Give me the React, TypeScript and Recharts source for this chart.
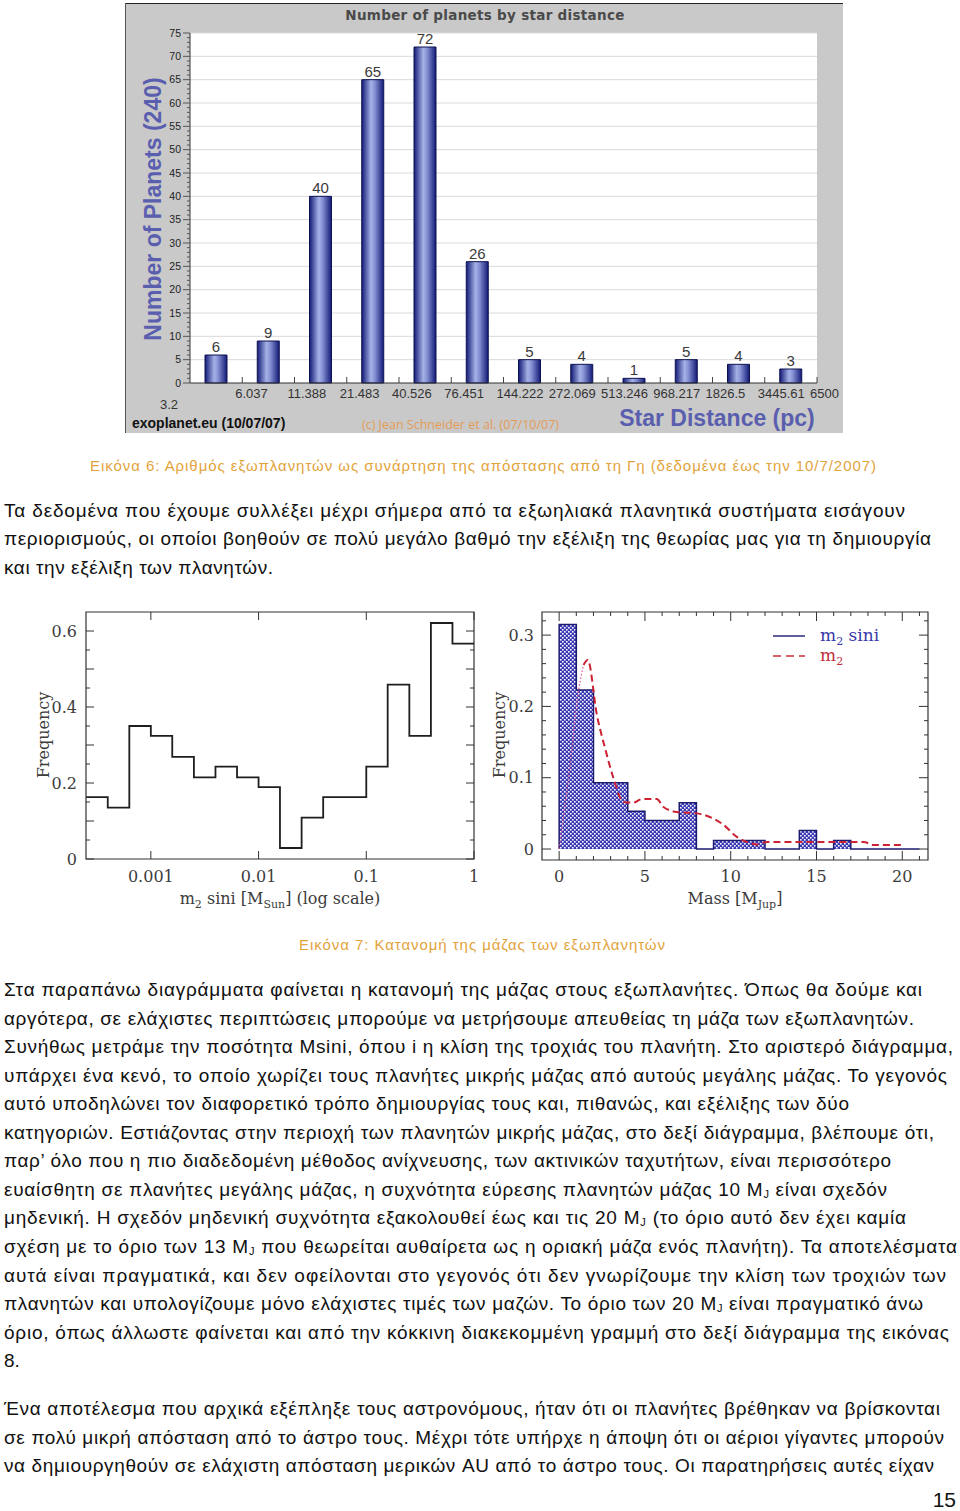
import React from 'react';
import {
  ComposedChart, Bar, Line, Area, XAxis, YAxis, CartesianGrid,
  LabelList, ReferenceArea, Legend,
} from 'recharts';

// ---- Figure 6: number of planets by star distance ----
const distanceEdges = ['3.2', '6.037', '11.388', '21.483', '40.526', '76.451', '144.222', '272.069', '513.246', '968.217', '1826.5', '3445.61', '6500'];
const planetCounts = [6, 9, 40, 65, 72, 26, 5, 4, 1, 5, 4, 3];
const countTicks = Array.from({ length: 76 }, (_, i) => i);
const countGrid = [5, 10, 15, 20, 25, 30, 35, 40, 45, 50, 55, 60, 65, 70, 75];
const edgeTicks = distanceEdges.map((_, i) => i);

// ---- Figure 7 (left): m2 sini in solar masses, log bins ----
const sunMassEdges = [0.000251, 0.000398, 0.000631, 0.001, 0.00158, 0.00251, 0.00398, 0.00631, 0.01, 0.0158, 0.0251, 0.0398, 0.0631, 0.1, 0.158, 0.251, 0.398, 0.631, 1];
const sunMassFreq = [0.163, 0.135, 0.35, 0.324, 0.269, 0.215, 0.243, 0.215, 0.189, 0.029, 0.109, 0.163, 0.163, 0.243, 0.459, 0.324, 0.621, 0.567];
const sunFreqTicks = [0, 0.05, 0.1, 0.15, 0.2, 0.25, 0.3, 0.35, 0.4, 0.45, 0.5, 0.55, 0.6];
const sunMassTicks = [0.001, 0.01, 0.1, 1];
const sunMassLabels = ['0.001', '0.01', '0.1', '1'];

// ---- Figure 7 (right): mass in Jupiter masses ----
const jupMassEdges = [0, 0, 1, 2, 3, 4, 5, 6, 7, 8, 9, 10, 11, 12, 13, 14, 15, 16, 17, 21];
const jupMassFreq = [0, 0.315, 0.223, 0.093, 0.093, 0.053, 0.04, 0.04, 0.065, 0, 0.012, 0.012, 0.012, 0, 0, 0.026, 0, 0.012, 0, 0];
const m2Mass = [1.42, 1.67, 2.2, 2.68, 3.17, 3.75, 4.33, 4.82, 5.69, 6.08, 6.86, 8.03, 8.42, 9.58, 10.36, 10.94, 11.53, 12.11, 17.75, 18.33, 20];
const m2Freq = [0.258, 0.265, 0.188, 0.141, 0.099, 0.066, 0.065, 0.07, 0.07, 0.059, 0.052, 0.05, 0.048, 0.034, 0.017, 0.01, 0.0065, 0.01, 0.01, 0.0056, 0.0056];
const m2RiseMass = [0, 0.6, 1.15, 1.42];
const m2RiseFreq = [0, 0.11, 0.225, 0.258];
const jupFreqTicks = [0, 0.02, 0.04, 0.06, 0.08, 0.1, 0.12, 0.14, 0.16, 0.18, 0.2, 0.22, 0.24, 0.26, 0.28, 0.3, 0.32];
const jupMassTicks = Array.from({ length: 22 }, (_, i) => i);

// ---- page text ----
const caption6 = 'Εικόνα 6: Αριθμός εξωπλανητών ως συνάρτηση της απόστασης από τη Γη (δεδομένα έως την 10/7/2007)';
const caption7 = 'Εικόνα 7: Κατανομή της μάζας των εξωπλανητών';
const para1 = [
  'Τα δεδομένα που έχουμε συλλέξει μέχρι σήμερα από τα εξωηλιακά πλανητικά συστήματα εισάγουν',
  'περιορισμούς, οι οποίοι βοηθούν σε πολύ μεγάλο βαθμό την εξέλιξη της θεωρίας μας για τη δημιουργία',
  'και την εξέλιξη των πλανητών.',
];
const para2 = [
  'Στα παραπάνω διαγράμματα φαίνεται η κατανομή της μάζας στους εξωπλανήτες. Όπως θα δούμε και',
  'αργότερα, σε ελάχιστες περιπτώσεις μπορούμε να μετρήσουμε απευθείας τη μάζα των εξωπλανητών.',
  'Συνήθως μετράμε την ποσότητα Msini, όπου i η κλίση της τροχιάς του πλανήτη. Στο αριστερό διάγραμμα,',
  'υπάρχει ένα κενό, το οποίο χωρίζει τους πλανήτες μικρής μάζας από αυτούς μεγάλης μάζας. Το γεγονός',
  'αυτό υποδηλώνει τον διαφορετικό τρόπο δημιουργίας τους και, πιθανώς, και εξέλιξης των δύο',
  'κατηγοριών. Εστιάζοντας στην περιοχή των πλανητών μικρής μάζας, στο δεξί διάγραμμα, βλέπουμε ότι,',
  'παρ’ όλο που η πιο διαδεδομένη μέθοδος ανίχνευσης, των ακτινικών ταχυτήτων, είναι περισσότερο',
  'ευαίσθητη σε πλανήτες μεγάλης μάζας, η συχνότητα εύρεσης πλανητών μάζας 10 M_J είναι σχεδόν',
  'μηδενική. Η σχεδόν μηδενική συχνότητα εξακολουθεί έως και τις 20 M_J (το όριο αυτό δεν έχει καμία',
  'σχέση με το όριο των 13 M_J που θεωρείται αυθαίρετα ως η οριακή μάζα ενός πλανήτη). Τα αποτελέσματα',
  'αυτά είναι πραγματικά, και δεν οφείλονται στο γεγονός ότι δεν γνωρίζουμε την κλίση των τροχιών των',
  'πλανητών και υπολογίζουμε μόνο ελάχιστες τιμές των μαζών. Το όριο των 20 M_J είναι πραγματικό άνω',
  'όριο, όπως άλλωστε φαίνεται και από την κόκκινη διακεκομμένη γραμμή στο δεξί διάγραμμα της εικόνας',
  '8.',
];
const para3 = [
  'Ένα αποτέλεσμα που αρχικά εξέπληξε τους αστρονόμους, ήταν ότι οι πλανήτες βρέθηκαν να βρίσκονται',
  'σε πολύ μικρή απόσταση από το άστρο τους. Μέχρι τότε υπήρχε η άποψη ότι οι αέριοι γίγαντες μπορούν',
  'να δημιουργηθούν σε ελάχιστη απόσταση μερικών AU από το άστρο τους. Οι παρατηρήσεις αυτές είχαν',
];
// right edge of every line on the page, so the ragged margin matches
const para1Ends = [905, 931, 273];
const para2Ends = [922, 914, 953, 947, 849, 934, 891, 887, 906, 957, 946, 923, 949, 0];
const para3Ends = [940, 944, 934];

const sans = '"Liberation Sans", Arial, sans-serif';
const serif = '"DejaVu Serif", serif';

const PageLine = ({ text, y, right }: { text: string; y: number; right: number }) => {
  const parts = text.split('M_J');
  return (
    <text x={4} y={y} fontSize={19} fill="#111" fontFamily={sans}
      {...(right > 0 ? { textLength: right - 4, lengthAdjust: 'spacing' } : {})}>
      {parts.map((p, i) => (
        <React.Fragment key={i}>
          {i > 0 && <tspan>M</tspan>}
          {i > 0 && <tspan fontSize={11} dy={2}>J</tspan>}
          <tspan dy={i > 0 ? -2 : 0}>{p}</tspan>
        </React.Fragment>
      ))}
    </text>
  );
};

// ---------- Figure 6 ticks ----------
const CountTick = ({ x, y, payload }: any) => {
  const v = payload.value;
  const major = v % 5 === 0;
  return (
    <g>
      <line x1={x - (major ? 7 : 3)} x2={x} y1={y} y2={y} stroke="#555" />
      {major && (
        <text x={x - 9} y={y + 3.5} textAnchor="end" fontSize={10.5} fill="#222" fontFamily={sans}>{v}</text>
      )}
    </g>
  );
};

const DistanceTick = ({ x, y, payload }: any) => {
  const i = payload.value;
  if (i === 0) {
    return <text x={x - 12} y={y + 26} textAnchor="end" fontSize={13} fill="#333" fontFamily={sans}>{distanceEdges[0]}</text>;
  }
  return (
    <g>
      <line x1={x} x2={x} y1={y} y2={y - 6} stroke="#444" />
      <text x={x - 7} y={y + 15} textAnchor="start" fontSize={13} fill="#333" fontFamily={sans}>{distanceEdges[i]}</text>
    </g>
  );
};

const DistanceChart = () => {
  const data = planetCounts.map((count, i) => ({ bin: i + 0.5, count }));
  return (
    <div style={{ position: 'absolute', left: 125, top: 3, width: 718, height: 430, background: '#c9c9c9', overflow: 'hidden' }}>
      <ComposedChart width={718} height={430} data={data} margin={{ top: 30, right: 26, left: 0, bottom: 0 }}>
        <defs>
          <linearGradient id="barGrad" x1="0" y1="0" x2="1" y2="0">
            <stop offset="0%" stopColor="#121a76" />
            <stop offset="42%" stopColor="#a5b1e6" />
            <stop offset="58%" stopColor="#8894d6" />
            <stop offset="100%" stopColor="#121a76" />
          </linearGradient>
        </defs>
        <CartesianGrid fill="#fff" vertical={false} horizontalValues={countGrid} stroke="#dadada" />
        <XAxis type="number" dataKey="bin" domain={[0, 12]} ticks={edgeTicks} interval={0}
          height={50} tickSize={0} tickMargin={0} axisLine={{ stroke: '#333' }} tickLine={false} tick={<DistanceTick />} />
        <YAxis type="number" domain={[0, 75]} ticks={countTicks} interval={0}
          width={65} tickSize={0} tickMargin={0} axisLine={{ stroke: '#333' }} tickLine={false} tick={<CountTick />} />
        <Bar dataKey="count" barSize={22} fill="url(#barGrad)" stroke="#0c1250" isAnimationActive={false}>
          <LabelList dataKey="count" position="top" offset={3} fill="#3a3a3a" fontSize={15} fontFamily={sans} />
        </Bar>
      </ComposedChart>
      <div style={{ position: 'absolute', left: 0, top: 0, width: 718, height: 1, background: '#222' }} />
      <div style={{ position: 'absolute', left: 0, top: 0, width: 1, height: 430, background: '#555' }} />
      <div style={{ position: 'absolute', left: 0, top: 4, width: 720, textAlign: 'center', fontFamily: '"DejaVu Sans", sans-serif', fontWeight: 'bold', fontSize: 13.5, color: '#4a4a4a', letterSpacing: 0.3 }}>
        Number of planets by star distance
      </div>
      <div style={{ position: 'absolute', left: -122, top: 193, width: 300, height: 26, lineHeight: '26px', textAlign: 'center', transform: 'rotate(-90deg)', fontFamily: sans, fontWeight: 'bold', fontSize: 23, color: '#5a5eaf' }}>
        Number of Planets (240)
      </div>
      <div style={{ position: 'absolute', left: 467, top: 402, width: 250, lineHeight: '26px', textAlign: 'center', fontFamily: sans, fontWeight: 'bold', fontSize: 23, color: '#5a5eaf' }}>
        Star Distance (pc)
      </div>
      <div style={{ position: 'absolute', left: 7, top: 412, lineHeight: '16px', fontFamily: sans, fontWeight: 'bold', fontSize: 14, color: '#111', whiteSpace: 'nowrap' }}>
        exoplanet.eu (10/07/07)
      </div>
      <div style={{ position: 'absolute', left: 237, top: 413, fontFamily: '"Open Sans", sans-serif', fontSize: 12.5, color: '#e49c55', whiteSpace: 'nowrap' }}>
        (c) Jean Schneider et al. (07/10/07)
      </div>
    </div>
  );
};

// ---------- Figure 7 helpers ----------
const Sub = ({ children }: { children: React.ReactNode }) => (
  <span style={{ fontSize: 11, position: 'relative', top: 4 }}>{children}</span>
);

const Title = ({ cx, cy, rotate, children }: { cx: number; cy: number; rotate?: boolean; children: React.ReactNode }) => (
  <div style={{
    position: 'absolute', left: cx - 150, top: cy - 12, width: 300, height: 24, lineHeight: '24px',
    textAlign: 'center', whiteSpace: 'nowrap', fontFamily: serif, fontSize: 16, color: '#3c3c3c',
    transform: rotate ? 'rotate(-90deg)' : undefined,
  }}>{children}</div>
);

const isMultiple = (v: number, step: number) => Math.abs(v / step - Math.round(v / step)) < 1e-6;
const fmt = (v: number) => (v === 0 ? '0' : String(Number(v.toFixed(2))));

const LEFT_W = 388;
const LEFT_H = 247;
const RIGHT_W = 386;
const RIGHT_H = 248;

const SunFreqTick = ({ x, y, payload }: any) => {
  const v = payload.value;
  const len = isMultiple(v, 0.1) ? 8 : 4;
  return (
    <g>
      <line x1={x} x2={x + len} y1={y} y2={y} stroke="#333" />
      <line x1={x + LEFT_W} x2={x + LEFT_W - len} y1={y} y2={y} stroke="#333" />
      {isMultiple(v, 0.2) && (
        <text x={x - 9} y={y + 5.5} textAnchor="end" fontSize={16} fill="#3c3c3c" fontFamily={serif}>{fmt(v)}</text>
      )}
    </g>
  );
};

const SunMassTick = ({ x, y, payload, index }: any) => (
  <g>
    <line x1={x} x2={x} y1={y} y2={y - 8} stroke="#333" />
    <line x1={x} x2={x} y1={y - LEFT_H} y2={y - LEFT_H + 8} stroke="#333" />
    <text x={x} y={y + 23} textAnchor="middle" fontSize={16} fill="#3c3c3c" fontFamily={serif}>{sunMassLabels[index] ?? payload.value}</text>
  </g>
);

const JupFreqTick = ({ x, y, payload }: any) => {
  const v = payload.value;
  const len = isMultiple(v, 0.1) ? 9 : 4;
  return (
    <g>
      <line x1={x} x2={x + len} y1={y} y2={y} stroke="#333" />
      <line x1={x + RIGHT_W} x2={x + RIGHT_W - len} y1={y} y2={y} stroke="#333" />
      {isMultiple(v, 0.1) && (
        <text x={x - 8} y={y + 5.5} textAnchor="end" fontSize={16} fill="#3c3c3c" fontFamily={serif}>{fmt(v)}</text>
      )}
    </g>
  );
};

const JupMassTick = ({ x, y, payload }: any) => {
  const v = payload.value;
  const len = v % 5 === 0 ? 9 : 4;
  return (
    <g>
      <line x1={x} x2={x} y1={y} y2={y - len} stroke="#333" />
      <line x1={x} x2={x} y1={y - RIGHT_H} y2={y - RIGHT_H + len} stroke="#333" />
      {v % 5 === 0 && v <= 20 && (
        <text x={x} y={y + 22} textAnchor="middle" fontSize={16} fill="#3c3c3c" fontFamily={serif}>{v}</text>
      )}
    </g>
  );
};

const SunMassChart = () => {
  const data = sunMassEdges.map((mass, i) => ({ mass, freq: sunMassFreq[Math.min(i, sunMassFreq.length - 1)] }));
  return (
    <div style={{ position: 'absolute', left: 30, top: 605, width: 450, height: 310 }}>
      <ComposedChart width={450} height={310} data={data} margin={{ top: 7, right: 6, left: 0, bottom: 0 }}>
        <XAxis type="number" dataKey="mass" scale="log" domain={[0.00025, 1]} allowDataOverflow ticks={sunMassTicks} interval={0}
          height={56} tickSize={0} tickMargin={0} axisLine={false} tickLine={false} tick={<SunMassTick />} />
        <YAxis type="number" domain={[0, 0.65]} allowDataOverflow ticks={sunFreqTicks} interval={0}
          width={56} tickSize={0} tickMargin={0} axisLine={false} tickLine={false} tick={<SunFreqTick />} />
        <ReferenceArea x1={0.00025} x2={1} y1={0} y2={0.65} fill="none" stroke="#333" strokeWidth={1.2} />
        <Line type="stepAfter" dataKey="freq" stroke="#1e1e1e" strokeWidth={1.8} dot={false} isAnimationActive={false} />
      </ComposedChart>
      <Title cx={14} cy={130} rotate>Frequency</Title>
      <Title cx={250} cy={294}>m<Sub>2</Sub> sini [M<Sub>Sun</Sub>] (log scale)</Title>
    </div>
  );
};

const MassLegend = () => (
  <div style={{ fontFamily: serif, fontSize: 17, lineHeight: '20px' }}>
    <div style={{ display: 'flex', alignItems: 'center', height: 20 }}>
      <svg width={32} height={4}><line x1={0} x2={32} y1={2} y2={2} stroke="#2a2a80" strokeWidth={1.5} /></svg>
      <span style={{ marginLeft: 15, color: '#3838a8' }}>m<Sub>2</Sub> sini</span>
    </div>
    <div style={{ display: 'flex', alignItems: 'center', height: 20 }}>
      <svg width={32} height={4}><line x1={0} x2={32} y1={2} y2={2} stroke="#c8303c" strokeWidth={1.5} strokeDasharray="8 5" /></svg>
      <span style={{ marginLeft: 15, color: '#c0303c' }}>m<Sub>2</Sub></span>
    </div>
  </div>
);

const JupMassChart = () => {
  const hist = jupMassEdges.map((mass, i) => ({ mass, freq: jupMassFreq[i] }));
  const trueMass = m2Mass.map((mass, i) => ({ mass, freq: m2Freq[i] }));
  const rise = m2RiseMass.map((mass, i) => ({ mass, freq: m2RiseFreq[i] }));
  return (
    <div style={{ position: 'absolute', left: 490, top: 605, width: 445, height: 310 }}>
      <ComposedChart width={445} height={310} margin={{ top: 7, right: 7, left: 0, bottom: 0 }}>
        <defs>
          <pattern id="hatch" width={4} height={4} patternUnits="userSpaceOnUse">
            <rect width={4} height={4} fill="#3a3ab4" />
            <rect x={0} y={0} width={1.6} height={1.6} fill="#fff" />
            <rect x={2} y={2} width={1.6} height={1.6} fill="#fff" />
          </pattern>
        </defs>
        <XAxis type="number" dataKey="mass" domain={[-1, 21.5]} allowDataOverflow ticks={jupMassTicks} interval={0}
          height={55} tickSize={0} tickMargin={0} axisLine={false} tickLine={false} tick={<JupMassTick />} />
        <YAxis type="number" domain={[-0.0154, 0.3324]} allowDataOverflow ticks={jupFreqTicks} interval={0}
          width={52} tickSize={0} tickMargin={0} axisLine={false} tickLine={false} tick={<JupFreqTick />} />
        <Area data={hist} type="stepAfter" dataKey="freq" baseValue={0} fill="url(#hatch)" fillOpacity={1}
          stroke="#1b1b70" strokeWidth={1.5} isAnimationActive={false} />
        <Line data={rise} type="monotone" dataKey="freq" stroke="#e0508c" strokeWidth={1.2} strokeDasharray="1.5 2" dot={false} isAnimationActive={false} />
        <Line data={trueMass} type="monotone" dataKey="freq" stroke="#cc2233" strokeWidth={2} strokeDasharray="7 4" dot={false} isAnimationActive={false} />
        <ReferenceArea x1={-1} x2={21.5} y1={-0.0154} y2={0.3324} fill="none" stroke="#333" strokeWidth={1.2} />
        <Legend layout="vertical" align="center" verticalAlign="middle" content={<MassLegend />}
          wrapperStyle={{ top: 21, left: 283, width: 140, bottom: 'auto', right: 'auto' }} />
      </ComposedChart>
      <Title cx={10} cy={130} rotate>Frequency</Title>
      <Title cx={245} cy={294}>Mass [M<Sub>Jup</Sub>]</Title>
    </div>
  );
};

export default function App() {
  const pitch = 28.6;
  return (
    <div style={{ position: 'absolute', left: 0, top: 0, width: 960, height: 1511, background: '#fff', overflow: 'hidden' }}>
      <svg width={960} height={1511} style={{ position: 'absolute', left: 0, top: 0 }}>
        <text x={90} y={471} fontSize={15} fill="#e2a33b" fontFamily={sans} textLength={786} lengthAdjust="spacing">{caption6}</text>
        {para1.map((t, i) => <PageLine key={t} text={t} y={516.5 + i * pitch} right={para1Ends[i]} />)}
        <text x={299} y={950} fontSize={15} fill="#e2a33b" fontFamily={sans} textLength={366} lengthAdjust="spacing">{caption7}</text>
        {para2.map((t, i) => <PageLine key={t} text={t} y={996 + i * 28.55} right={para2Ends[i]} />)}
        {para3.map((t, i) => <PageLine key={t} text={t} y={1415 + i * pitch} right={para3Ends[i]} />)}
        <text x={956} y={1507} textAnchor="end" fontSize={21} fill="#111" fontFamily={sans}>15</text>
      </svg>
      <DistanceChart />
      <SunMassChart />
      <JupMassChart />
    </div>
  );
}
